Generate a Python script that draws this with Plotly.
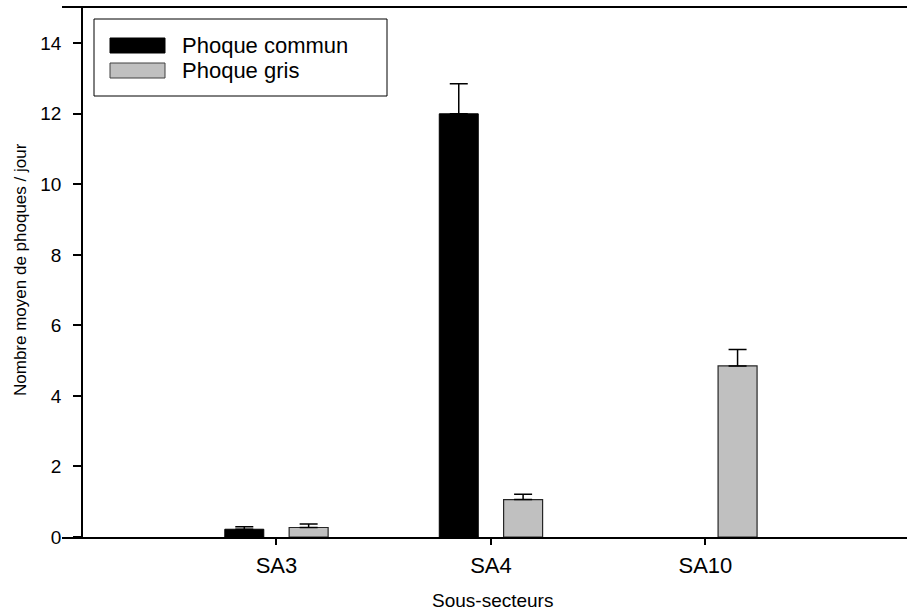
import plotly.graph_objects as go

# ---- data ----
categories = ["SA3", "SA4", "SA10"]
commun_mean = [0.22, 12.0, None]
commun_err = [0.07, 0.85, 0]
gris_mean = [0.27, 1.06, 4.85]
gris_err = [0.10, 0.15, 0.47]
series_names = ["Phoque commun", "Phoque gris"]
y_ticks = [0, 2, 4, 6, 8, 10, 12, 14]

FONT = "Liberation Sans, Arial, sans-serif"
W, H = 907, 613
ML, MR, MT, MB = 62, 0, 8, 76
PW, PH = W - ML - MR, H - MT - MB


def px_x(x):
    return (x - ML) / PW


def px_y(y):
    return (H - MB - y) / PH


fig = go.Figure()
fig.add_trace(go.Bar(
    x=categories, y=commun_mean, name=series_names[0],
    marker=dict(color="#000000", line=dict(color="#000000", width=1)),
    error_y=dict(type="data", symmetric=False, array=commun_err,
                 arrayminus=[0, 0, 0], color="#000000", thickness=1.5, width=9),
))
fig.add_trace(go.Bar(
    x=categories, y=gris_mean, name=series_names[1],
    marker=dict(color="#c0c0c0", line=dict(color="#262626", width=1.2)),
    error_y=dict(type="data", symmetric=False, array=gris_err,
                 arrayminus=[0, 0, 0], color="#000000", thickness=1.5, width=9),
))

# custom legend (box + swatches + text)
shapes = [
    dict(type="rect", xref="paper", yref="paper",
         x0=px_x(94), x1=px_x(387), y0=px_y(96), y1=px_y(19),
         line=dict(color="#000000", width=1), fillcolor="white", layer="above"),
    dict(type="rect", xref="paper", yref="paper",
         x0=px_x(110), x1=px_x(165), y0=px_y(53), y1=px_y(38),
         line=dict(color="#000000", width=1), fillcolor="#000000", layer="above"),
    dict(type="rect", xref="paper", yref="paper",
         x0=px_x(110), x1=px_x(165), y0=px_y(78), y1=px_y(63),
         line=dict(color="#404040", width=1), fillcolor="#c0c0c0", layer="above"),
]
annotations = [
    dict(text=series_names[0], xref="paper", yref="paper", x=px_x(180), y=px_y(45.5),
         xanchor="left", yanchor="middle", showarrow=False,
         font=dict(family=FONT, size=22, color="#000000")),
    dict(text=series_names[1], xref="paper", yref="paper", x=px_x(180), y=px_y(70.5),
         xanchor="left", yanchor="middle", showarrow=False,
         font=dict(family=FONT, size=22, color="#000000")),
    dict(text="Sous-secteurs", xref="paper", yref="paper", x=px_x(492), y=px_y(600),
         xanchor="center", yanchor="middle", showarrow=False, borderpad=0,
         font=dict(family=FONT, size=19, color="#000000")),
    dict(text="Nombre moyen de phoques / jour", xref="paper", yref="paper",
         x=px_x(20), y=px_y(270), textangle=-90,
         xanchor="center", yanchor="middle", showarrow=False,
         font=dict(family=FONT, size=17, color="#000000")),
]

fig.update_layout(
    width=W, height=H,
    margin=dict(l=ML, r=MR, t=MT, b=MB, pad=0),
    paper_bgcolor="white", plot_bgcolor="white",
    barmode="group", bargap=0.4, bargroupgap=0.394,
    showlegend=False,
    font=dict(family=FONT, color="#000000"),
    shapes=shapes, annotations=annotations,
    xaxis=dict(
        type="category", range=[-1.0, 2.94],
        showline=True, linecolor="#000000", linewidth=1.5, mirror=True,
        ticks="outside", ticklen=6, tickwidth=1.5, tickcolor="#000000",
        ticklabelstandoff=2,
        showgrid=False, zeroline=False,
        tickfont=dict(family=FONT, size=22, color="#000000"),
    ),
    yaxis=dict(
        range=[0, 15], tickvals=y_ticks,
        anchor="free", position=px_x(82),
        showline=True, linecolor="#000000", linewidth=1.5,
        ticks="outside", ticklen=8, tickwidth=1.5, tickcolor="#000000",
        ticklabelstandoff=8,
        showgrid=False, zeroline=False,
        tickfont=dict(family=FONT, size=19, color="#000000"),
    ),
)

fig.write_html("out.html")
